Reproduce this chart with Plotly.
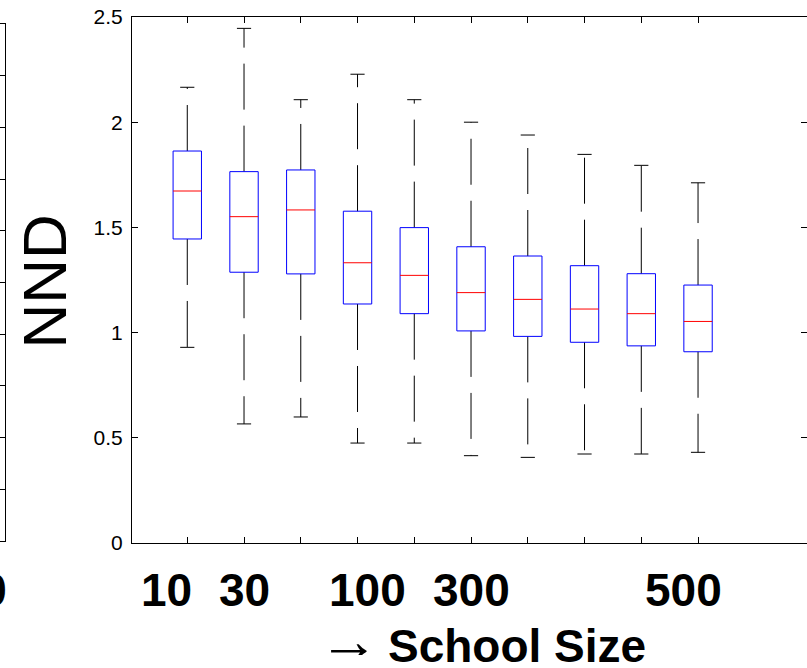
import plotly.graph_objects as go

# ---- data ----
positions = [1, 2, 3, 4, 5, 6, 7, 8, 9, 10]
upper_whisker = [2.166, 2.446, 2.107, 2.228, 2.107, 2.000, 1.939, 1.847, 1.795, 1.712]
q3 = [1.863, 1.765, 1.773, 1.577, 1.499, 1.408, 1.364, 1.318, 1.280, 1.226]
median = [1.673, 1.551, 1.583, 1.332, 1.272, 1.190, 1.158, 1.112, 1.090, 1.053]
q1 = [1.445, 1.287, 1.279, 1.136, 1.090, 1.008, 0.982, 0.954, 0.937, 0.909]
lower_whisker = [0.930, 0.566, 0.599, 0.475, 0.475, 0.415, 0.407, 0.423, 0.423, 0.431]

y_tick_vals = [0, 0.5, 1, 1.5, 2, 2.5]
y_tick_text = ["0", "0.5", "1", "1.5", "2", "2.5"]
size_labels = ["10", "30", "100", "300", "500"]
size_label_pos = [0.64, 2.0, 4.17, 6.0, 9.75]

HALF_BOX = 0.25
HALF_CAP = 0.125
FONT = "Liberation Sans, Arial, Helvetica, sans-serif"
W, H = 807, 668
L_PX, T_PX, B_PX = 132, 17, 125

fig = go.Figure()

for i, x in enumerate(positions):
    # upper whisker (dashed, starting at box edge)
    fig.add_trace(go.Scatter(x=[x, x], y=[q3[i], upper_whisker[i]], mode="lines",
                             line=dict(color="black", width=1, dash="46px,16px"),
                             hoverinfo="skip"))
    # lower whisker
    fig.add_trace(go.Scatter(x=[x, x], y=[q1[i], lower_whisker[i]], mode="lines",
                             line=dict(color="black", width=1, dash="46px,16px"),
                             hoverinfo="skip"))
    # caps
    fig.add_trace(go.Scatter(x=[x - HALF_CAP, x + HALF_CAP, None, x - HALF_CAP, x + HALF_CAP],
                             y=[upper_whisker[i], upper_whisker[i], None, lower_whisker[i], lower_whisker[i]],
                             mode="lines", line=dict(color="black", width=1), hoverinfo="skip"))
    # box
    fig.add_trace(go.Scatter(x=[x - HALF_BOX, x + HALF_BOX, x + HALF_BOX, x - HALF_BOX, x - HALF_BOX],
                             y=[q1[i], q1[i], q3[i], q3[i], q1[i]],
                             mode="lines", line=dict(color="#0000ff", width=1), hoverinfo="skip"))
    # median
    fig.add_trace(go.Scatter(x=[x - HALF_BOX, x + HALF_BOX], y=[median[i], median[i]],
                             mode="lines", line=dict(color="#ff0000", width=1), hoverinfo="skip"))

# invisible trace so the neighbouring (cropped) panel on the left gets its axes
fig.add_trace(go.Scatter(x=[None], y=[None], xaxis="x2", yaxis="y2", mode="lines",
                         hoverinfo="skip"))

# x tick labels (school sizes)
for lab, pos in zip(size_labels, size_label_pos):
    fig.add_annotation(text=lab, x=pos, xref="x", y=(543 - 590) / 526, yref="paper",
                       xanchor="center", yanchor="middle", showarrow=False,
                       height=40, valign="middle",
                       font=dict(family=FONT, size=46, color="black", weight="bold"))

# partial label of the neighbouring chart on the left
fig.add_annotation(text="500", x=9 / W, xref="paper", y=(543 - 590) / 526, yref="paper",
                   xanchor="right", yanchor="middle", showarrow=False,
                   height=40, valign="middle",
                   font=dict(family=FONT, size=46, color="black", weight="bold"))

# x axis title: arrow + bold words
fig.add_annotation(text="→", x=348.5 / W, xref="paper",
                   y=(543 - 640) / 526, yref="paper", xanchor="center", yanchor="middle",
                   height=30, valign="middle",
                   showarrow=False, font=dict(family=FONT, size=60, color="black"))
fig.add_annotation(text="School Size", x=517 / W, xref="paper",
                   y=(543 - 646) / 526, yref="paper", xanchor="center", yanchor="middle",
                   height=38, valign="middle",
                   showarrow=False, font=dict(family=FONT, size=46, color="black", weight="bold"))

# y axis title
fig.add_annotation(text="NND", textangle=-90, x=44.5 / W, xref="paper",
                   y=(543 - 282) / 526, yref="paper", xanchor="center", yanchor="middle",
                   showarrow=False, font=dict(family=FONT, size=62, color="black"))

fig.update_layout(
    width=W, height=H,
    margin=dict(l=0, r=0, t=T_PX, b=B_PX, pad=0),
    paper_bgcolor="white", plot_bgcolor="white",
    showlegend=False,
    xaxis=dict(domain=[L_PX / W, 1], range=[0.026, 11.92], tickvals=positions,
               showticklabels=False, ticks="inside", ticklen=6, tickcolor="black",
               showline=True, linecolor="black", linewidth=1, mirror="ticks",
               showgrid=False, zeroline=False, anchor="y"),
    yaxis=dict(domain=[0, 1], range=[0, 2.5], tickvals=y_tick_vals, ticktext=y_tick_text,
               ticks="inside", ticklen=6, tickcolor="black", ticklabelstandoff=4,
               showline=True, linecolor="black", linewidth=1, mirror="ticks",
               showgrid=False, zeroline=False, anchor="x",
               tickfont=dict(family=FONT, size=21, color="black")),
    xaxis2=dict(domain=[0, 5 / W], range=[0, 1], anchor="y2", showline=True, mirror=True,
                linecolor="black", linewidth=1, ticks="", showticklabels=False,
                showgrid=False, zeroline=False),
    yaxis2=dict(domain=[(543 - 541) / 526, (543 - 24) / 526], range=[0, 10], anchor="x2",
                side="right", tickvals=list(range(11)), ticks="inside", ticklen=5,
                tickcolor="black", showline=True, linecolor="black", linewidth=1,
                mirror=False, showticklabels=False, showgrid=False, zeroline=False),
)

fig.write_html("out.html")
